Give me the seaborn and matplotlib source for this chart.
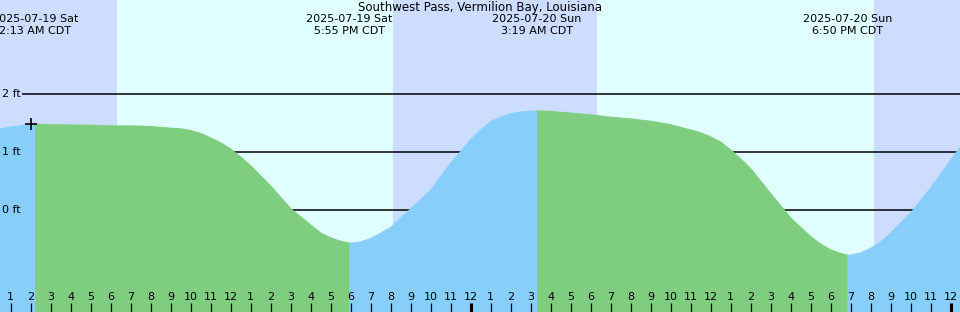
import matplotlib
matplotlib.use("Agg")
import matplotlib.pyplot as plt
import seaborn as sns
import numpy as np
import pandas as pd

# ---- data (hours since 2025-07-19 00:00 CDT, water level in ft) ----
hours = [0.45, 1, 2, 2.2167, 3, 4, 5, 6, 7, 8, 9, 9.5, 10, 10.5, 11, 11.5, 12, 12.5,
         13, 14, 15, 16, 16.5, 17, 17.5, 17.9167, 18, 18.5, 19, 19.5, 20, 21, 22, 23,
         24, 24.5, 25, 25.5, 26, 26.5, 27, 27.3167, 28, 29, 30, 31, 32, 33, 34, 35,
         35.5, 36, 36.5, 37, 37.5, 38, 39, 40, 41, 41.5, 42, 42.5, 42.8333, 43, 43.5,
         44, 44.5, 45, 46, 47, 48, 48.5]
level = [1.40, 1.43, 1.47, 1.48, 1.47, 1.466, 1.46, 1.45, 1.45, 1.44, 1.41, 1.40, 1.37,
         1.32, 1.24, 1.16, 1.05, 0.91, 0.76, 0.41, 0.02, -0.26, -0.40, -0.48, -0.54,
         -0.57, -0.57, -0.55, -0.49, -0.40, -0.30, 0.02, 0.34, 0.81, 1.21, 1.38, 1.52,
         1.60, 1.66, 1.69, 1.70, 1.71, 1.70, 1.67, 1.64, 1.60, 1.57, 1.53, 1.47, 1.38,
         1.33, 1.26, 1.17, 1.03, 0.88, 0.71, 0.28, -0.14, -0.46, -0.59, -0.69, -0.75,
         -0.78, -0.78, -0.74, -0.66, -0.55, -0.40, -0.05, 0.38, 0.86, 1.09]

event_hours = [2.2167, 17.9167, 27.3167, 42.8333]
event_dates = ["2025-07-19 Sat", "2025-07-19 Sat", "2025-07-20 Sun", "2025-07-20 Sun"]
event_times = ["2:13 AM CDT", "5:55 PM CDT", "3:19 AM CDT", "6:50 PM CDT"]
event_kind = ["high", "low", "high", "low"]

sun_rise = [6.32, 30.32]
sun_set = [20.12, 44.17]

level_lines = [2, 1, 0]
level_labels = ["2 ft", "1 ft", "0 ft"]
tick_hours = list(range(1, 49))
tick_labels = [str((h - 1) % 12 + 1) for h in tick_hours]
title = "Southwest Pass, Vermilion Bay, Louisiana"
now_hour, now_level = 2.0, 1.475

# ---- style ----
NIGHT = "#ccddff"
DAY = "#e0ffff"
FALL = "#7fce7f"
RISE = "#87cefa"

sns.set_style("white")
plt.rcParams["font.family"] = ["DejaVu Sans"]

W, H = 960, 312
fig = plt.figure(figsize=(W / 100, H / 100), dpi=100)
ax = fig.add_axes([0, 0, 1, 1])
x0 = 9.3 / 20.0
x1 = x0 + W / 20.0
ft_per_px = 1 / 58.0
y_bottom = (210 - 312) * ft_per_px
y_top = 210 * ft_per_px
ax.set_xlim(x0, x1)
ax.set_ylim(y_bottom, y_top)
ax.axis("off")

# day/night background
ax.axvspan(x0, x1, color=NIGHT, zorder=0, lw=0)
for r, s in zip(sun_rise, sun_set):
    ax.axvspan(r, s, color=DAY, zorder=0.5, lw=0)

# level lines (behind the water)
line_start = x0 + 22 / 20.0
for lv in level_lines:
    ax.hlines(lv, line_start, x1, color="black", lw=1.1, zorder=1)

# water fill, split at highs/lows
t = np.array(hours)
v = np.array(level)
bounds = [x0 - 1] + event_hours + [x1 + 1]
for i in range(len(bounds) - 1):
    a, b = bounds[i], bounds[i + 1]
    rising = (i % 2 == 0)
    col = RISE if rising else FALL
    m = (t >= a - 1e-9) & (t <= b + 1e-9)
    ax.fill_between(t[m], y_bottom - 1, v[m], facecolor=col, edgecolor=col,
                    lw=0.6, zorder=2 + 0.01 * i)
    seg = pd.DataFrame({"hour": t[m], "ft": v[m]})
    sns.lineplot(data=seg, x="hour", y="ft", ax=ax, color=col, lw=0.8,
                 zorder=2.2, sort=False, estimator=None)

# "now" marker
ax.plot([now_hour], [now_level], marker="+", ms=9, mew=1.2, color="black", zorder=4)

# level labels
ytrans = ax.get_yaxis_transform()
for lv, lab in zip(level_lines, level_labels):
    ax.text(2 / W, lv, lab, transform=ytrans, ha="left", va="center",
            fontsize=8, color="black", zorder=5)

# hour ticks and labels
xtrans = ax.get_xaxis_transform()
for h, lab in zip(tick_hours, tick_labels):
    lw = 2.2 if h % 24 == 0 else 0.9
    ax.vlines(h, 0, 9 / H, transform=xtrans, color="black", lw=lw, zorder=5)
    ax.text(h, 1 - 297.5 / H, lab, transform=xtrans, ha="center", va="center",
            fontsize=8, color="black", zorder=5)

# title and event labels
ax.text(0.5, 1 - 7 / H, title, transform=ax.transAxes, ha="center", va="center",
        fontsize=8.5, color="black", zorder=6)
for eh, d, tm in zip(event_hours, event_dates, event_times):
    ax.text(eh, 1 - 19 / H, d, transform=xtrans, ha="center", va="center",
            fontsize=8, color="black", zorder=6)
    ax.text(eh, 1 - 31 / H, tm, transform=xtrans, ha="center", va="center",
            fontsize=8, color="black", zorder=6)

fig.savefig("out.png", dpi=100)
